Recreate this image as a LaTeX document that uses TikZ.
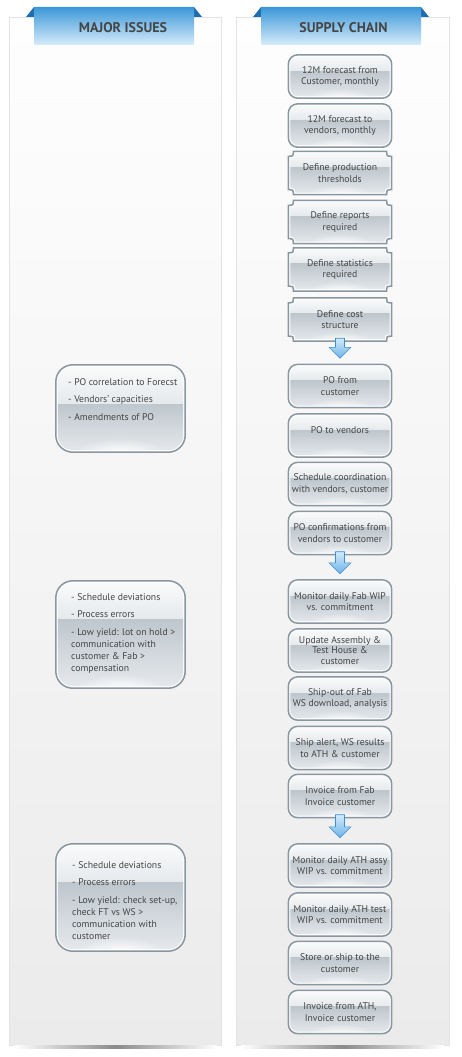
\documentclass[tikz,border=0pt]{standalone}
\usepackage{fontspec}
\setmainfont{PT Sans}
\usetikzlibrary{calc,fadings}
\pgfdeclarelayer{back}
\pgfdeclarelayer{background}
\pgfsetlayers{back,background,main}

\definecolor{txt}{HTML}{454545}
\definecolor{hdrtxt}{HTML}{454545}
\definecolor{hdrtop}{HTML}{3B97D8}
\definecolor{hdrbot}{HTML}{D6ECFB}
\definecolor{hdrtab}{HTML}{1E6DB0}
\definecolor{panelT}{HTML}{FEFEFE}
\definecolor{panelB}{HTML}{EBEBEB}
\definecolor{panelL}{HTML}{E3E3E3}
\definecolor{shadowc}{HTML}{8A8A8A}
\definecolor{boxbase}{HTML}{D5DBE0}
\definecolor{boxborder}{HTML}{8A97A1}
\definecolor{gA}{HTML}{FAFBFB}
\definecolor{gB}{HTML}{E5E9EC}
\definecolor{gC}{HTML}{BEC7CE}
\definecolor{gD}{HTML}{E6E9EC}
\definecolor{arrT}{HTML}{D2EAFA}
\definecolor{arrB}{HTML}{6DB3E8}
\definecolor{arrL}{HTML}{3E8ED0}

\tikzfading[name=glowfade, inner color=transparent!0, outer color=transparent!100]

\tikzset{
  boxline/.style={draw=boxborder, line width=1.5pt},
  hilite/.style={draw=white, draw opacity=0.85, line width=4pt},
  rbox/.style={minimum width=103pt, minimum height=43pt, inner sep=0pt,
    align=center, text=txt, font=\fontsize{9.7}{11.7}\selectfont},
  lbox/.style={minimum width=129pt, inner sep=0pt},
  ltext/.style={align=left, text=txt, inner sep=0pt, anchor=north west,
    font=\fontsize{9.7}{11.8}\selectfont},
  hdrtext/.style={text=hdrtxt, font=\fontsize{14}{16}\selectfont\bfseries, inner sep=0pt},
  blkarrow/.style={top color=arrT, bottom color=arrB, draw=arrL, line width=0.6pt, line join=round}
}

\newcommand\glossin[4]{%
  \fill[top color=gA, bottom color=gB] (#1.north west) rectangle ($(#1.north east)!#4!(#1.south east)$);
  \fill[top color=gC, bottom color=gD] ($(#1.north west)!#4!(#1.south west)$) rectangle (#1.south east);
  \fill[white, path fading=glowfade] ($(#1.south)+(0,2)$) ellipse (#2 and #3);
}

\newcommand\roundbody[5]{%
  \begin{pgfonlayer}{background}
  \fill[boxbase, rounded corners=#2] (#1.south west) rectangle (#1.north east);
  \begin{scope}
    \clip[rounded corners=#2] (#1.south west) rectangle (#1.north east);
    \glossin{#1}{#3}{#4}{#5}
    \draw[hilite, rounded corners=#2] (#1.south west) rectangle (#1.north east);
  \end{scope}
  \draw[boxline, rounded corners=#2] (#1.south west) rectangle (#1.north east);
  \end{pgfonlayer}}

\def\notchpath#1{($(#1.north west)+(5,0)$) -- ($(#1.north east)+(-5,0)$)
  .. controls ($(#1.north east)+(-5,5)$) .. ($(#1.north east)+(0,5)$)
  -- ($(#1.south east)+(0,-5)$)
  .. controls ($(#1.south east)+(-5,-5)$) .. ($(#1.south east)+(-5,0)$)
  -- ($(#1.south west)+(5,0)$)
  .. controls ($(#1.south west)+(5,-5)$) .. ($(#1.south west)+(0,-5)$)
  -- ($(#1.north west)+(0,5)$)
  .. controls ($(#1.north west)+(5,5)$) .. ($(#1.north west)+(5,0)$) -- cycle}

\newcommand\notchbody[1]{%
  \begin{pgfonlayer}{background}
  \fill[boxbase] \notchpath{#1};
  \begin{scope}
    \clip \notchpath{#1};
    \glossin{#1}{36}{12}{0.37}
    \draw[hilite] \notchpath{#1};
  \end{scope}
  \draw[boxline] \notchpath{#1};
  \end{pgfonlayer}}

\newcommand\blkarrowdraw[2]{%
  \path[blkarrow] ($(#1.south)+(-4.5,-3)$) -- ($(#1.south)+(4.5,-3)$)
    -- ($(#2.north)+(4.5,-17)$) -- ($(#2.north)+(11,-17)$)
    -- ($(#2.north)+(0,-6)$) -- ($(#2.north)+(-11,-17)$)
    -- ($(#2.north)+(-4.5,-17)$) -- cycle;}

\begin{document}
\begin{tikzpicture}[x=1pt,y=-1pt]
\useasboundingbox (0,0) rectangle (462,1057);

% panels
\begin{pgfonlayer}{back}
  \path[top color=panelT, bottom color=panelB, draw=panelL, line width=0.5pt] (9.5,17) rectangle (221.5,1045);
  \path[top color=panelT, bottom color=panelB, draw=panelL, line width=0.5pt] (236,17) rectangle (449,1045);
  \shade[left color=white, right color=white, middle color=shadowc] (14,1045.6) rectangle (217,1048);
  \shade[left color=white, right color=white, middle color=shadowc] (241,1045.6) rectangle (444,1048);
\end{pgfonlayer}

% headers
\fill[hdrtab] (26,17) -- (34,7) -- (34,17) -- cycle;
\fill[hdrtab] (202,17) -- (194,7) -- (194,17) -- cycle;
\shade[top color=hdrtop, bottom color=hdrbot] (34,7) -- (194,7) -- (194,41)
  .. controls (194,45) .. (190,45) -- (38,45) .. controls (34,45) .. (34,41) -- cycle;
\fill[hdrtab] (253,17) -- (261,7) -- (261,17) -- cycle;
\fill[hdrtab] (429,17) -- (421,7) -- (421,17) -- cycle;
\shade[top color=hdrtop, bottom color=hdrbot] (261,7) -- (421,7) -- (421,41)
  .. controls (421,45) .. (417,45) -- (265,45) .. controls (261,45) .. (261,41) -- cycle;
\node[hdrtext] (h1) at (123,27.5) {MAJOR ISSUES};
\node[hdrtext] (h2) at (343.5,27.5) {SUPPLY CHAIN};

% supply chain boxes
\node[rbox] (b1) at (340,76.5) {12M forecast from\\Customer, monthly};
\node[rbox] (b2) at (340,125.5) {12M forecast to\\vendors, monthly};
\node[rbox] (b3) at (340,173) {Define production\\thresholds};
\node[rbox] (b4) at (340,222) {Define reports\\required};
\node[rbox] (b5) at (340,269.5) {Define statistics\\required};
\node[rbox] (b6) at (340,319.5) {Define cost\\structure};
\node[rbox] (b7) at (340,386) {PO from\\customer};
\node[rbox] (b8) at (340,435.5) {PO to vendors\\\mbox{}};
\node[rbox] (b9) at (340,484) {Schedule coordination\\with vendors, customer};
\node[rbox] (b10) at (340,533) {PO confirmations from\\vendors to customer};
\node[rbox] (b11) at (340,601.5) {Monitor daily Fab WIP\\vs. commitment};
\node[rbox, font=\fontsize{9.7}{10.8}\selectfont] (b12) at (340,650.5) {Update Assembly \&\\Test House \&\\customer};
\node[rbox] (b13) at (340,698.5) {Ship-out of Fab\\WS download, analysis};
\node[rbox] (b14) at (340,748) {Ship alert, WS results\\to ATH \& customer};
\node[rbox] (b15) at (340,796) {Invoice from Fab\\Invoice customer};
\node[rbox] (b16) at (340,865.5) {Monitor daily ATH assy\\WIP vs. commitment};
\node[rbox] (b17) at (340,914.5) {Monitor daily ATH test\\WIP vs. commitment};
\node[rbox] (b18) at (340,963) {Store or ship to the\\customer};
\node[rbox] (b19) at (340,1012) {Invoice from ATH,\\Invoice customer};

\foreach \n in {b1,b2,b7,b8,b9,b10,b11,b12,b13,b14,b15,b16,b17,b18,b19}{\roundbody{\n}{9.5pt}{36}{12}{0.38}}
\foreach \n in {b3,b4,b5,b6}{\notchbody{\n}}

% major issues boxes
\node[lbox, minimum height=87pt] (m1) at (120.5,408.5) {};
\node[lbox, minimum height=107pt] (m2) at (120.5,634.5) {};
\node[lbox, minimum height=107pt] (m3) at (120.5,897.5) {};
\roundbody{m1}{17pt}{46}{16}{0.45}
\roundbody{m2}{17pt}{46}{16}{0.36}
\roundbody{m3}{17pt}{46}{16}{0.36}

\node[ltext] (t1) at (68,378) {- PO correlation to Forecst\\[6pt]- Vendors’ capacities\\[6pt]- Amendments of PO};
\node[ltext] (t2) at (71,593) {- Schedule deviations\\[6pt]- Process errors\\[6pt]- Low yield: lot on hold >\\communication with\\customer \& Fab >\\compensation};
\node[ltext] (t3) at (72,861) {- Schedule deviations\\[6pt]- Process errors\\[6pt]- Low yield: check set-up,\\check FT vs WS >\\communication with\\customer};

% block arrows between groups
\blkarrowdraw{b6}{b7}
\blkarrowdraw{b10}{b11}
\blkarrowdraw{b15}{b16}
\end{tikzpicture}
\end{document}
